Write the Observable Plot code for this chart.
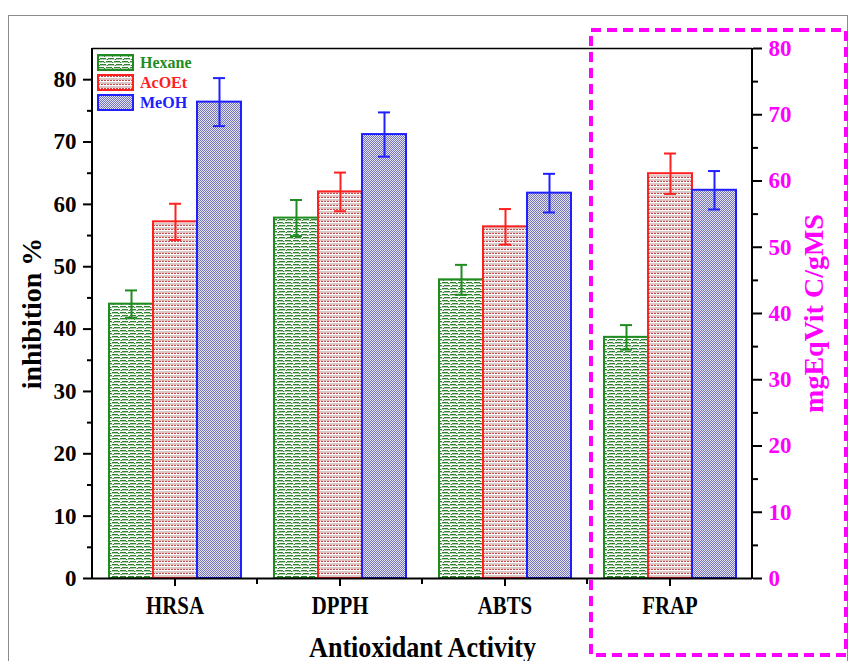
<!DOCTYPE html>
<html><head><meta charset="utf-8">
<script src="https://cdn.jsdelivr.net/npm/d3@7"></script>
<script src="https://cdn.jsdelivr.net/npm/@observablehq/plot@0.6"></script>
<style>
body{margin:0;background:#fff;}
#wrap{position:relative;width:849px;height:661px;overflow:hidden;}
#chart{position:absolute;left:0;top:0;}
#overlay{position:absolute;left:0;top:0;}
#chart svg text, #overlay text{font-family:'Liberation Serif','Times New Roman',serif;font-weight:bold;}
#chart [aria-label="y-axis tick label"] text{font-size:23px;}
#chart [aria-label="fx-axis tick label"] text{font-size:26px;}
#chart [aria-label="y-axis label"] text{font-size:28px;}
#chart [aria-label="fx-axis label"] text{font-size:29px;}
</style></head><body>
<svg width="0" height="0" style="position:absolute">
<defs>
  <pattern id="pat-hexane" patternUnits="userSpaceOnUse" width="8" height="6">
    <rect width="8" height="6" fill="#ffffff"/>
    <rect x="0" y="0" width="6" height="1" fill="#2a842a"/>
    <rect x="0" y="1" width="8" height="1" fill="#b9cab9"/>
    <rect x="6" y="1" width="1" height="1" fill="#2a842a"/>
    <rect x="2" y="3" width="6" height="1" fill="#2a842a"/>
    <rect x="0" y="4" width="8" height="1" fill="#b9cab9"/>
    <rect x="1" y="4" width="1" height="1" fill="#2a842a"/>
  </pattern>
  <pattern id="pat-acoet" patternUnits="userSpaceOnUse" width="6" height="4">
    <rect width="6" height="4" fill="#ffffff"/>
    <rect x="0" y="0" width="6" height="1" fill="#e4c2c2"/>
    <rect x="0" y="1" width="2" height="1" fill="#c44a4a"/>
    <rect x="3" y="1" width="2" height="1" fill="#c44a4a"/>
    <rect x="0" y="3" width="6" height="1" fill="#d4cccc"/>
  </pattern>
  <pattern id="pat-meoh" patternUnits="userSpaceOnUse" width="2" height="2">
    <rect width="2" height="2" fill="#e2e2f0"/>
    <rect x="0" y="0" width="1" height="1" fill="#7575b8"/>
    <rect x="1" y="1" width="1" height="1" fill="#7575b8"/>
  </pattern>
</defs></svg>
<div id="wrap"><div id="chart"></div><svg id="overlay" width="849" height="661"></svg></div>
<script>
const categories = ["HRSA", "DPPH", "ABTS", "FRAP"];
const seriesNames = ["Hexane", "AcOEt", "MeOH"];
// FRAP values are in right-axis units (mgEqVit C/gMS), others in inhibition %
const hexane    = [44.0, 57.8, 47.9, 36.4];
const hexaneErr = [2.2, 2.9, 2.4, 1.85];
const acoet     = [57.2, 62.0, 56.4, 61.1];
const acoetErr  = [2.9, 3.1, 2.85, 3.05];
const meoh      = [76.4, 71.2, 61.8, 58.6];
const meohErr   = [3.85, 3.55, 3.1, 2.9];
const rightAxisCategory = "FRAP";
const leftTicks = [0, 10, 20, 30, 40, 50, 60, 70, 80];
const leftMinorTicks = [5, 15, 25, 35, 45, 55, 65, 75];
const rightTicks = [0, 10, 20, 30, 40, 50, 60, 70, 80];
const rightMinorTicks = [5, 15, 25, 35, 45, 55, 65, 75];
const leftMax = 85, rightMax = 80;

const k = leftMax / rightMax;
const colors = {Hexane: "#1f8c1f", AcOEt: "#ff2020", MeOH: "#2020ff"};
const patternIds = {Hexane: "pat-hexane", AcOEt: "pat-acoet", MeOH: "pat-meoh"};
const values = {Hexane: hexane, AcOEt: acoet, MeOH: meoh};
const errors = {Hexane: hexaneErr, AcOEt: acoetErr, MeOH: meohErr};
const rows = seriesNames.flatMap(s => categories.map((c, i) => {
  const f = c === rightAxisCategory ? k : 1;
  const v = values[s][i], e = errors[s][i];
  return {category: c, series: s, y: v * f, lo: (v - e) * f, hi: (v + e) * f};
}));

const W = 849, H = 661;
const chart = Plot.plot({
  width: W, height: H,
  marginLeft: 92, marginRight: 97, marginTop: 48, marginBottom: 83,
  style: {background: "transparent", overflow: "visible"},
  fx: {domain: categories, padding: 0, label: null},
  x: {domain: seriesNames, paddingInner: 0, paddingOuter: 0.375, axis: null},
  y: {domain: [0, leftMax], axis: null},
  marks: [
    ...seriesNames.flatMap(s => {
      const d = rows.filter(r => r.series === s);
      return [
        Plot.barY(d, {fx: "category", x: "series", y: "y", fill: `url(#${patternIds[s]})`, stroke: colors[s], strokeWidth: 2}),
        Plot.ruleX(d, {fx: "category", x: "series", y1: "lo", y2: "hi", stroke: colors[s], strokeWidth: 2}),
        Plot.tickY(d, {fx: "category", x: "series", y: "hi", stroke: colors[s], strokeWidth: 2, insetLeft: 16, insetRight: 16}),
        Plot.tickY(d, {fx: "category", x: "series", y: "lo", stroke: colors[s], strokeWidth: 2, insetLeft: 16, insetRight: 16})
      ];
    }),
    Plot.ruleY([0], {stroke: "#000", strokeWidth: 2}),
    Plot.ruleY([leftMax], {stroke: "#000", strokeWidth: 1.5}),
    Plot.axisY({anchor: "left", ticks: leftTicks, tickSize: 9, tickPadding: 7, strokeWidth: 2, fill: "#000",
      label: "inhibition %", labelAnchor: "center", labelArrow: "none", labelOffset: 71}),
    Plot.axisY({anchor: "left", ticks: leftMinorTicks, tickSize: 5, strokeWidth: 2, tickFormat: () => "", label: null}),
    Plot.axisY({anchor: "right", ticks: rightTicks.map(v => v * k), tickFormat: d => String(Math.round(d / k)),
      tickSize: 9, tickPadding: 7, strokeWidth: 2, stroke: "#000", fill: "#ff00ff",
      label: "mgEqVit C/gMS", labelAnchor: "center", labelArrow: "none", labelOffset: 70}),
    Plot.axisY({anchor: "right", ticks: rightMinorTicks.map(v => v * k), tickSize: 5, strokeWidth: 2, tickFormat: () => "", label: null}),
    Plot.axisFx({anchor: "bottom", tickSize: 8, tickPadding: 9, strokeWidth: 2, fill: "#000",
      label: "Antioxidant Activity", labelAnchor: "center", labelArrow: "none", labelOffset: 78})
  ]
});
document.getElementById("chart").appendChild(chart);

// narrow horizontal labels as in the reference image
function squeeze(sel, factor) {
  chart.querySelectorAll(sel).forEach(t => {
    const L = t.getComputedTextLength();
    if (L > 0) { t.setAttribute("textLength", L * factor); t.setAttribute("lengthAdjust", "spacingAndGlyphs"); }
  });
}
squeeze('[aria-label="fx-axis tick label"] text', 0.8);
squeeze('[aria-label="fx-axis label"] text', 0.9);

// overlay: frame lines, minor x ticks, highlight box, legend
const fx = chart.scale("fx"), ys = chart.scale("y");
const ov = d3.select("#overlay");
const x0 = fx.apply(categories[0]);
const x1 = fx.apply(categories[categories.length - 1]) + fx.bandwidth;
const yTop = ys.apply(leftMax), yBot = ys.apply(0);
ov.append("rect").attr("x", 8.5).attr("y", 15.5).attr("width", 839).attr("height", 700)
  .attr("fill", "none").attr("stroke", "#8c8c8c").attr("stroke-width", 1);
ov.append("line").attr("x1", x0).attr("x2", x0).attr("y1", yTop).attr("y2", yBot + 1).attr("stroke", "#000").attr("stroke-width", 2);
ov.append("line").attr("x1", x1).attr("x2", x1).attr("y1", yTop).attr("y2", yBot + 1).attr("stroke", "#000").attr("stroke-width", 2);
categories.slice(1).forEach(c => {
  const xb = fx.apply(c);
  ov.append("line").attr("x1", xb).attr("x2", xb).attr("y1", yBot).attr("y2", yBot + 6).attr("stroke", "#000").attr("stroke-width", 2);
});
const bx = fx.apply(rightAxisCategory) + 4;
ov.append("rect").attr("x", bx).attr("y", yTop - 18).attr("width", W - 3 - bx).attr("height", (yBot + 77) - (yTop - 18))
  .attr("fill", "none").attr("stroke", "#ff00ff").attr("stroke-width", 4).attr("stroke-dasharray", "10 6");

const lg = ov.append("g").attr("transform", `translate(${x0 + 6},${yTop + 7})`);
seriesNames.forEach((s, i) => {
  const g = lg.append("g").attr("transform", `translate(0,${i * 20})`);
  g.append("rect").attr("x", 0).attr("y", 0).attr("width", 35).attr("height", 15)
    .attr("fill", `url(#${patternIds[s]})`).attr("stroke", colors[s]).attr("stroke-width", 2);
  g.append("text").attr("x", 42).attr("y", 13).attr("fill", colors[s]).style("font-size", "16px").text(s);
});
</script>
</body></html>
